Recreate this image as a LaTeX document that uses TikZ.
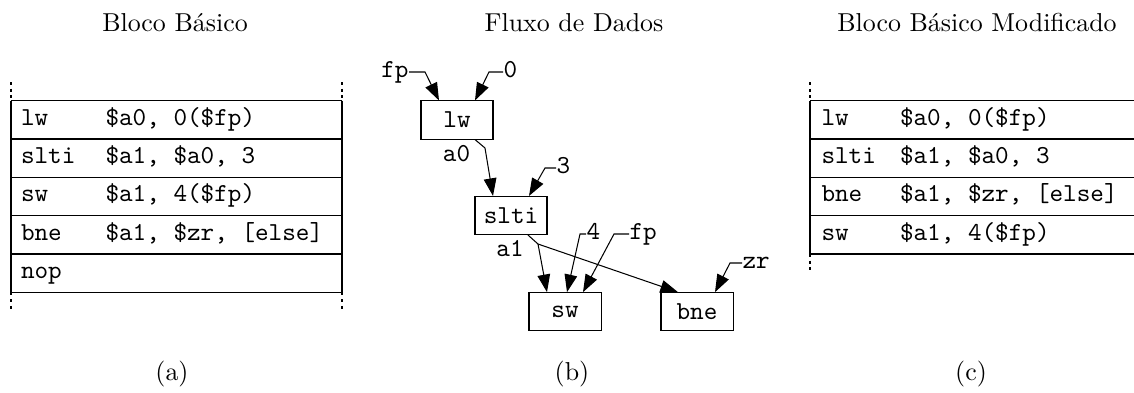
\documentclass[tikz,border=0pt]{standalone}
\usepackage{fontspec}
\usetikzlibrary{arrows.meta,calc}
\begin{document}
\begin{tikzpicture}[x=0.386pt,y=-0.386pt,
  rule/.style={line width=0.5pt},
  openrule/.style={line width=0.45pt, dash pattern=on 1.1pt off 1.5pt},
  cell/.style={font=\ttfamily, anchor=base west, inner sep=0pt},
  title/.style={anchor=base, inner sep=0pt},
  op/.style={draw, line width=0.4pt, font=\ttfamily, minimum width=27.8pt,
    minimum height=14.7pt, inner sep=0pt},
  lbl/.style={font=\ttfamily, inner sep=0pt, text height=6.1pt, text depth=1.5pt},
  flow/.style={line width=0.4pt, -{Triangle[length=6.8pt,width=4.9pt]}},
]
\useasboundingbox (0,0) rectangle (1134,392);

% titles and captions
\node[title] (tA) at (175,31) {Bloco Básico};
\node[title] (tB) at (574,31) {Fluxo de Dados};
\node[title] (tC) at (977,31) {Bloco Básico Modificado};
\node[title] (cA) at (172,380) {(a)};
\node[title] (cB) at (572,380) {(b)};
\node[title] (cC) at (971,380) {(c)};

% (a) original basic block
\foreach \y in {100.5,138.9,177.2,215.6,254,292.3}
  \draw[rule] (11,\y) -- (342,\y);
\draw[rule] (11,100.5) -- (11,292.3);
\draw[rule] (342,100.5) -- (342,292.3);
\draw[openrule] (11,82) -- (11,100.5);
\draw[openrule] (342,82) -- (342,100.5);
\draw[openrule] (11,292.3) -- (11,311);
\draw[openrule] (342,292.3) -- (342,311);

\node[cell] (a1m) at (20.5,125)   {lw};   \node[cell] (a1o) at (105,125)   {\$a0, 0(\$fp)};
\node[cell] (a2m) at (20.5,163.3) {slti}; \node[cell] (a2o) at (105,163.3) {\$a1, \$a0, 3};
\node[cell] (a3m) at (20.5,201.7) {sw};   \node[cell] (a3o) at (105,201.7) {\$a1, 4(\$fp)};
\node[cell] (a4m) at (20.5,240.1) {bne};  \node[cell] (a4o) at (105,240.1) {\$a1, \$zr, [else]};
\node[cell] (a5m) at (20.5,278.4) {nop};

% (c) reordered basic block
\foreach \y in {100.5,138.9,177.2,215.6,254}
  \draw[rule] (810,\y) -- (1135,\y);
\draw[rule] (810,100.5) -- (810,254);
\draw[openrule] (810,82) -- (810,100.5);
\draw[openrule] (810,254) -- (810,272);

\node[cell] (c1m) at (821,125)   {lw};   \node[cell] (c1o) at (899.5,125)   {\$a0, 0(\$fp)};
\node[cell] (c2m) at (821,163.3) {slti}; \node[cell] (c2o) at (899.5,163.3) {\$a1, \$a0, 3};
\node[cell] (c3m) at (821,201.7) {bne};  \node[cell] (c3o) at (899.5,201.7) {\$a1, \$zr, [else]};
\node[cell] (c4m) at (821,240.1) {sw};   \node[cell] (c4o) at (899.5,240.1) {\$a1, 4(\$fp)};

% (b) data flow graph
\node[op] (lw)   at (457,120)   {lw};
\node[op] (slti) at (511,215.5) {slti};
\node[op] (sw)   at (565,311.7) {sw};
\node[op] (bne)  at (697,311.7) {bne};

\node[lbl, anchor=east] (inFp) at (409,72) {fp};
\draw[flow] (inFp.east) -- ++(16,0) -- ($(lw.north)+(-18,0)$);
\node[lbl, anchor=west] (inZero) at (503,72) {0};
\draw[flow] (inZero.west) -- ++(-14,0) -- ($(lw.north)+(18,0)$);

\node[lbl] (a0) at (456.5,156) {a0};
\coordinate (bendA) at (485,148);
\draw[flow] ($(lw.south)+(18,0)$) -- (bendA) -- ($(slti.north)+(-18,0)$);

\node[lbl, anchor=west] (inThree) at (556,168) {3};
\draw[flow] (inThree.west) -- ++(-11,0) -- ($(slti.north)+(18,0)$);

\node[lbl] (a1) at (510,251) {a1};
\coordinate (split) at (538,244);
\draw[line width=0.4pt] ($(slti.south)+(17,0)$) -- (split);
\draw[flow] (split) -- ($(sw.north)+(-18,0)$);
\draw[flow] (split) -- ($(bne.north)+(-19,0)$);

\node[lbl, anchor=west] (inFour) at (586,234) {4};
\draw[flow] (inFour.west) -- ++(-6,0) -- ($(sw.north)+(2,0)$);
\node[lbl, anchor=west] (inFp2) at (629,234) {fp};
\draw[flow] (inFp2.west) -- ++(-15,0) -- ($(sw.north)+(18,0)$);
\node[lbl, anchor=west] (inZr) at (742,263) {zr};
\draw[flow] (inZr.west) -- ++(-12,0) -- ($(bne.north)+(18,0)$);
\end{tikzpicture}
\end{document}
